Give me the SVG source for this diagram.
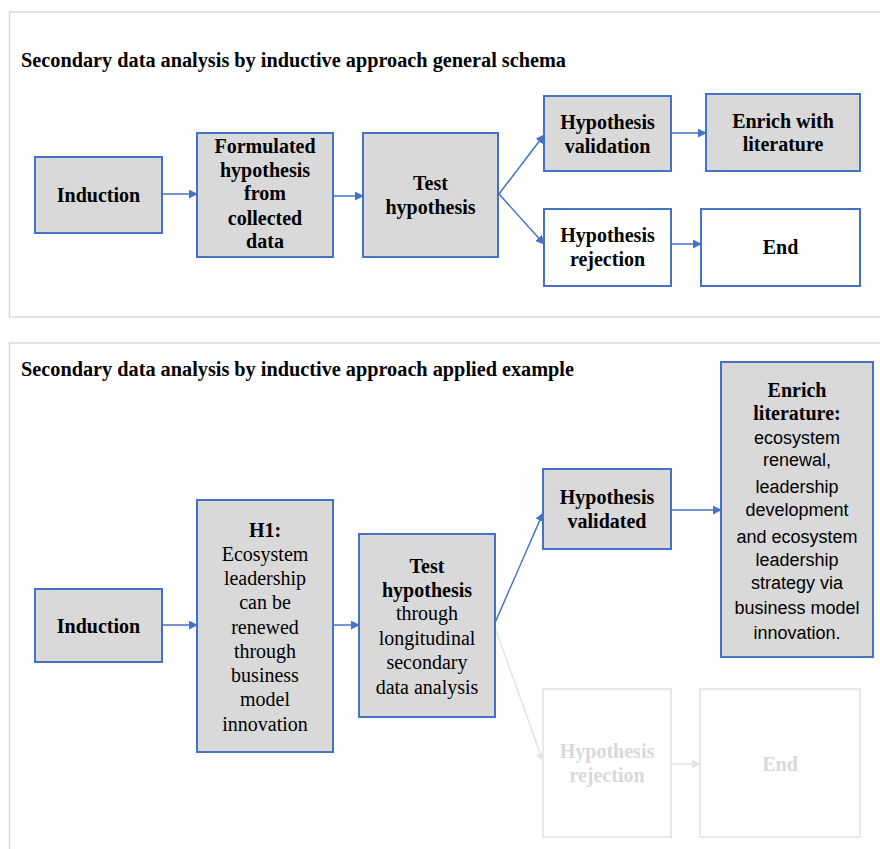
<svg xmlns="http://www.w3.org/2000/svg" width="880" height="849" viewBox="0 0 880 849">
<defs>
<marker id="ah" viewBox="0 0 10 10" refX="9" refY="5" markerWidth="9" markerHeight="9" markerUnits="userSpaceOnUse" orient="auto"><path d="M0,0 L10,5 L0,10 z" fill="#4472c4"/></marker>
<marker id="ahf" viewBox="0 0 10 10" refX="9" refY="5" markerWidth="9" markerHeight="9" markerUnits="userSpaceOnUse" orient="auto"><path d="M0,0 L10,5 L0,10 z" fill="#e3e3e3"/></marker>
<style>
.panel{fill:#fff;stroke:#d9d9d9;stroke-width:1.5}
.box{fill:#d9d9d9;stroke:#4472c4;stroke-width:2}
.wbox{fill:#fff;stroke:#4472c4;stroke-width:2}
.fbox{fill:#fff;stroke:#e8e8e8;stroke-width:2}
.t{font-family:"Liberation Serif","Times New Roman",serif;font-size:20px;fill:#000;text-anchor:middle}
.b{font-weight:bold}
.ttl{font-family:"Liberation Serif","Times New Roman",serif;font-size:20px;font-weight:bold;fill:#000}
.s{font-family:"Liberation Sans",Arial,sans-serif;font-size:18px;fill:#000;text-anchor:middle}
.f{fill:#d9d9d9}
.c{fill:none;stroke:#4472c4;stroke-width:1.5}
.cf{fill:none;stroke:#e3e3e3;stroke-width:1.5}
</style>
</defs>
<rect width="880" height="849" fill="#fff"/>
<rect class="panel" x="9.5" y="12" width="880" height="305"/>
<rect class="panel" x="9.5" y="343" width="880" height="520"/>
<text class="ttl" x="21" y="67" textLength="545" lengthAdjust="spacingAndGlyphs">Secondary data analysis by inductive approach general schema</text>
<text class="ttl" x="21" y="376" textLength="553" lengthAdjust="spacingAndGlyphs">Secondary data analysis by inductive approach applied example</text>

<g id="connectors">
<path class="c" d="M162,194 L197,194" marker-end="url(#ah)"/>
<path class="c" d="M333,196 L363,196" marker-end="url(#ah)"/>
<path class="c" d="M499,194 L544,135" marker-end="url(#ah)"/>
<path class="c" d="M499,194 L544,244" marker-end="url(#ah)"/>
<path class="c" d="M671,133 L706,133" marker-end="url(#ah)"/>
<path class="c" d="M671,244 L701,244" marker-end="url(#ah)"/>
<path class="c" d="M162,625 L197,625" marker-end="url(#ah)"/>
<path class="c" d="M333,625 L359,625" marker-end="url(#ah)"/>
<path class="c" d="M494,625 L543,513" marker-end="url(#ah)"/>
<path class="c" d="M671,510 L721,510" marker-end="url(#ah)"/>
<path class="cf" d="M494,625 L543,761" marker-end="url(#ahf)"/>
<path class="cf" d="M671,764 L700,764" marker-end="url(#ahf)"/>
</g>

<g id="top-induction">
<rect class="box" x="35" y="157" width="127" height="76"/>
<text class="t b" x="98.5" y="202">Induction</text>
</g>
<g id="top-formulated">
<rect class="box" x="197" y="133" width="136" height="124"/>
<text class="t b" x="265" y="153">Formulated</text>
<text class="t b" x="265" y="177">hypothesis</text>
<text class="t b" x="265" y="200">from</text>
<text class="t b" x="265" y="225">collected</text>
<text class="t b" x="265" y="248">data</text>
</g>
<g id="top-test">
<rect class="box" x="363" y="133" width="135" height="124"/>
<text class="t b" x="430.5" y="190">Test</text>
<text class="t b" x="430.5" y="214">hypothesis</text>
</g>
<g id="top-validation">
<rect class="box" x="544" y="96" width="127" height="75"/>
<text class="t b" x="607.5" y="129">Hypothesis</text>
<text class="t b" x="607.5" y="153">validation</text>
</g>
<g id="top-enrich">
<rect class="box" x="706" y="94" width="154" height="77"/>
<text class="t b" x="783" y="128">Enrich with</text>
<text class="t b" x="783" y="151">literature</text>
</g>
<g id="top-rejection">
<rect class="wbox" x="544" y="209" width="127" height="77"/>
<text class="t b" x="607.5" y="242">Hypothesis</text>
<text class="t b" x="607.5" y="266">rejection</text>
</g>
<g id="top-end">
<rect class="wbox" x="701" y="209" width="159" height="77"/>
<text class="t b" x="780.5" y="254">End</text>
</g>

<g id="bot-induction">
<rect class="box" x="35" y="589" width="127" height="73"/>
<text class="t b" x="98.5" y="633">Induction</text>
</g>
<g id="bot-h1">
<rect class="box" x="197" y="500" width="136" height="252"/>
<text class="t b" x="265" y="537">H1:</text>
<text class="t" x="265" y="561">Ecosystem</text>
<text class="t" x="265" y="585">leadership</text>
<text class="t" x="265" y="609">can be</text>
<text class="t" x="265" y="634">renewed</text>
<text class="t" x="265" y="658">through</text>
<text class="t" x="265" y="682">business</text>
<text class="t" x="265" y="706">model</text>
<text class="t" x="265" y="731">innovation</text>
</g>
<g id="bot-test">
<rect class="box" x="359" y="534" width="136" height="183"/>
<text class="t b" x="427" y="573">Test</text>
<text class="t b" x="427" y="597">hypothesis</text>
<text class="t" x="427" y="620">through</text>
<text class="t" x="427" y="645">longitudinal</text>
<text class="t" x="427" y="669">secondary</text>
<text class="t" x="427" y="694">data analysis</text>
</g>
<g id="bot-validated">
<rect class="box" x="543" y="469" width="128" height="80"/>
<text class="t b" x="607" y="504">Hypothesis</text>
<text class="t b" x="607" y="528">validated</text>
</g>
<g id="bot-enrich">
<rect class="box" x="721" y="362" width="152" height="295"/>
<text class="t b" x="797" y="397">Enrich</text>
<text class="t b" x="797" y="420">literature:</text>
<text class="s" x="797" y="444">ecosystem</text>
<text class="s" x="797" y="466">renewal,</text>
<text class="s" x="797" y="493">leadership</text>
<text class="s" x="797" y="516">development</text>
<text class="s" x="797" y="543">and ecosystem</text>
<text class="s" x="797" y="566">leadership</text>
<text class="s" x="797" y="589">strategy via</text>
<text class="s" x="797" y="614">business model</text>
<text class="s" x="797" y="639">innovation.</text>
</g>
<g id="bot-rejection">
<rect class="fbox" x="543" y="689" width="128" height="148"/>
<text class="t b f" x="607" y="758">Hypothesis</text>
<text class="t b f" x="607" y="782">rejection</text>
</g>
<g id="bot-end">
<rect class="fbox" x="700" y="689" width="160" height="148"/>
<text class="t b f" x="780" y="771">End</text>
</g>
</svg>
